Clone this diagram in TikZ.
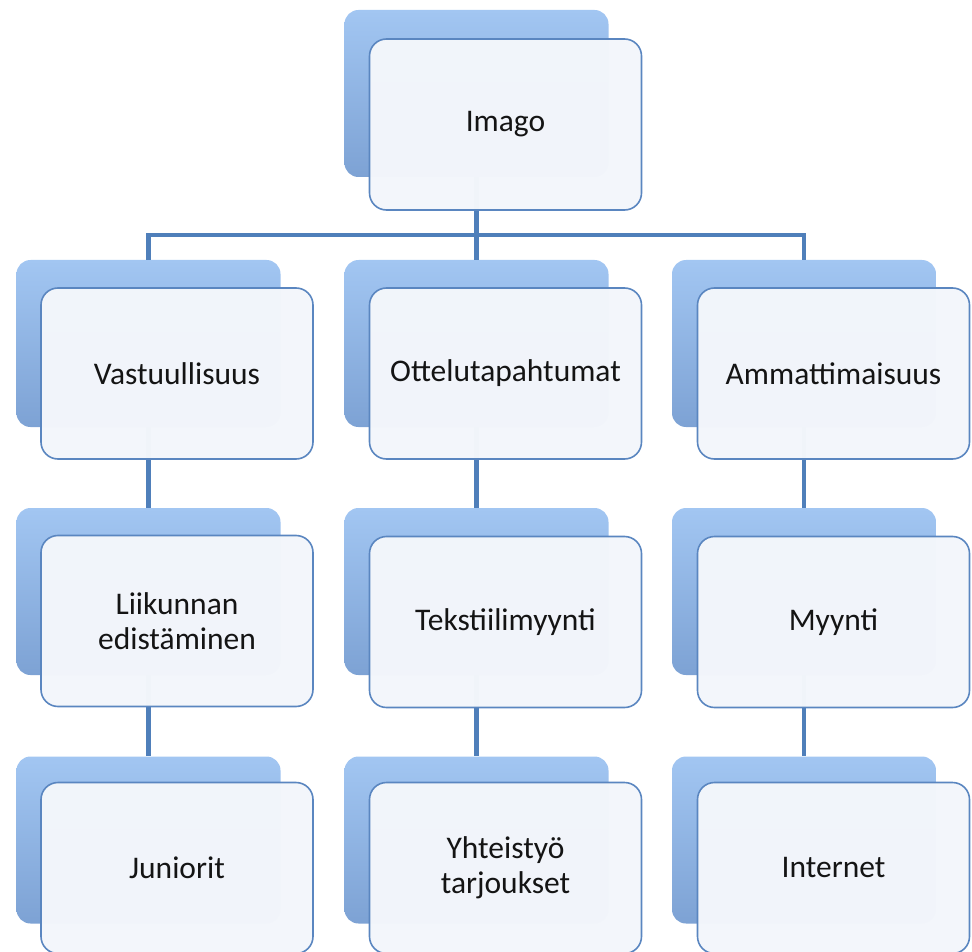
\documentclass[tikz,border=0pt]{standalone}
\usepackage{fontspec}
\setmainfont{Carlito}
\definecolor{conn}{HTML}{4F7FBA}
\definecolor{fborder}{HTML}{5A86C0}
\definecolor{ffill}{HTML}{F3F6FB}
\definecolor{btop}{HTML}{A2C6F2}
\definecolor{bbot}{HTML}{7DA2D4}
\begin{document}
\begin{tikzpicture}[x=1pt,y=-1pt,
  backbox/.style={rounded corners=14pt, minimum width=264pt, minimum height=167pt,
    top color=btop, bottom color=bbot, draw=none, inner sep=0pt},
  frontbox/.style={rounded corners=17pt, minimum width=272pt, minimum height=171pt,
    draw=fborder, line width=1.6pt, fill=ffill, fill opacity=0.985, text opacity=1,
    text=black!92, align=center, inner sep=0pt,
    font=\fontsize{31.5}{35}\selectfont},
  connline/.style={draw=conn, line width=4.5pt}]
\useasboundingbox (0,0) rectangle (972,952);
% back boxes
\node[backbox] (b0) at (476.5,93.5) {};
\node[backbox] (b1) at (148.5,343.5) {};
\node[backbox] (b2) at (476.5,343.5) {};
\node[backbox] (b3) at (804,343.5) {};
\node[backbox] (b4) at (148.5,591.5) {};
\node[backbox] (b5) at (476.5,591.5) {};
\node[backbox] (b6) at (804,591.5) {};
\node[backbox] (b7) at (148.5,840) {};
\node[backbox] (b8) at (476.5,840) {};
\node[backbox] (b9) at (804,840) {};
% connectors
\coordinate (bus) at (476.5,235);
\draw[connline] (b0.south) -- (bus);
\draw[connline] (b1.north) |- (bus) -| (b3.north);
\draw[connline] (bus) -- (b2.north);
\draw[connline] (b1.south) -- (b4.north);
\draw[connline] (b4.south) -- (b7.north);
\draw[connline] (b2.south) -- (b5.north);
\draw[connline] (b5.south) -- (b8.north);
\draw[connline] (b3.south) -- (b6.north);
\draw[connline] (b6.south) -- (b9.north);
% front boxes
\node[frontbox] (f0) at (505.5,124.5) {Imago};
\node[frontbox] (f1) at (177,373.5) {Vastuullisuus};
\node[frontbox] (f2) at (505.5,373.5) {Ottelutapahtumat};
\node[frontbox] (f3) at (833.5,373.5) {Ammattimaisuus};
\node[frontbox] (f4) at (177,621) {Liikunnan\\edistäminen};
\node[frontbox] (f5) at (505.5,622) {Tekstiilimyynti};
\node[frontbox] (f6) at (833.5,622) {Myynti};
\node[frontbox] (f7) at (177,868) {Juniorit};
\node[frontbox] (f8) at (505.5,868) {Yhteistyö\\tarjoukset};
\node[frontbox] (f9) at (833.5,868) {Internet};
\end{tikzpicture}
\end{document}
